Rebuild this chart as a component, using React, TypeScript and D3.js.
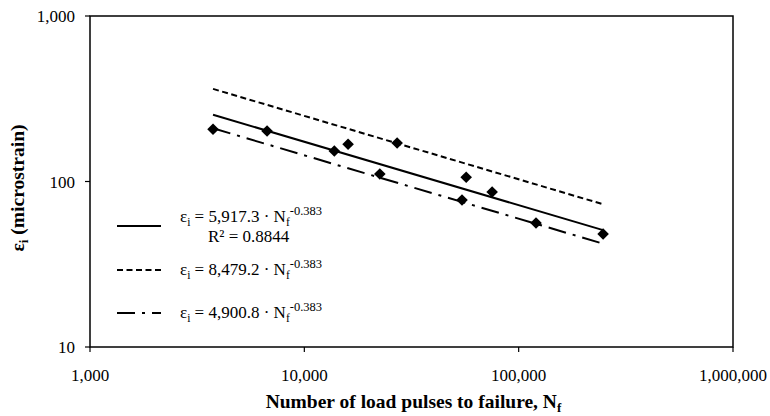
import { useRef, useEffect } from 'react';
import * as d3 from 'd3';

// measured fatigue points (load pulses, microstrain)
const pulses = [3750, 6700, 13800, 16000, 27100, 22500, 56900, 75200, 54400, 120500, 247700];
const strains = [207, 202, 153, 168, 171, 111, 106, 86.4, 77.3, 56.1, 48.2];

// power-law fits shown in the legend: eps = k * N^b
const fitNames = ['mean', 'upper', 'lower'];
const fitCoefs = [5917.3, 8479.2, 4900.8];
const fitExps = [-0.383, -0.383, -0.383];
const fitLabels = ['5,917.3', '8,479.2', '4,900.8'];
const fitDash = ['none', '6,3.5', '18,7,3,7'];

const xTicks = [1000, 10000, 100000, 1000000];
const yTicks = [10, 100, 1000];

const W = 770;
const H = 416;
const FONT = "'Liberation Serif', 'Times New Roman', serif";

export default function App() {
  const svgRef = useRef<SVGSVGElement>(null);

  useEffect(() => {
    const svg = d3.select(svgRef.current);
    svg.selectAll('*').remove();

    const margin = { top: 16, right: 37, bottom: 69, left: 90 };
    const pw = W - margin.left - margin.right;
    const ph = H - margin.top - margin.bottom;

    const x = d3.scaleLog().domain([1000, 1000000]).range([0, pw]);
    const y = d3.scaleLog().domain([10, 1000]).range([ph, 0]);

    const g = svg.append('g').attr('transform', `translate(${margin.left},${margin.top})`);

    // plot frame
    g.append('rect')
      .attr('width', pw)
      .attr('height', ph)
      .attr('fill', 'none')
      .attr('stroke', '#000')
      .attr('stroke-width', 1.5);

    // x ticks
    for (const t of xTicks) {
      g.append('line')
        .attr('x1', x(t)).attr('x2', x(t))
        .attr('y1', ph).attr('y2', ph + 5)
        .attr('stroke', '#000').attr('stroke-width', 1.2);
      g.append('text')
        .attr('x', x(t))
        .attr('y', ph + 34)
        .attr('text-anchor', 'middle')
        .attr('font-family', FONT)
        .attr('font-size', '17px')
        .text(d3.format(',')(t));
    }

    // y ticks
    for (const t of yTicks) {
      g.append('line')
        .attr('x1', -5).attr('x2', 0)
        .attr('y1', y(t)).attr('y2', y(t))
        .attr('stroke', '#000').attr('stroke-width', 1.2);
      g.append('text')
        .attr('x', -15)
        .attr('y', y(t) + 6)
        .attr('text-anchor', 'end')
        .attr('font-family', FONT)
        .attr('font-size', '17px')
        .text(d3.format(',')(t));
    }

    // fit lines across the tested range
    const [nMin, nMax] = d3.extent(pulses) as [number, number];
    fitNames.forEach((_, i) => {
      const ends = [nMin, nMax].map((n) => [n, fitCoefs[i] * Math.pow(n, fitExps[i])] as [number, number]);
      g.append('path')
        .datum(ends)
        .attr('d', d3.line<[number, number]>().x((d) => x(d[0])).y((d) => y(d[1])))
        .attr('fill', 'none')
        .attr('stroke', '#000')
        .attr('stroke-width', 2)
        .attr('stroke-dasharray', fitDash[i]);
    });

    // diamonds
    const diamond = 'M0,-5.8L5.8,0L0,5.8L-5.8,0Z';
    pulses.forEach((n, i) => {
      g.append('path')
        .attr('d', diamond)
        .attr('transform', `translate(${x(n)},${y(strains[i])})`)
        .attr('fill', '#000');
    });

    // legend
    const legendRows = [226, 270, 313];
    fitNames.forEach((_, i) => {
      const ly = legendRows[i] - margin.top;
      g.append('line')
        .attr('x1', 27).attr('x2', 71)
        .attr('y1', ly).attr('y2', ly)
        .attr('stroke', '#000')
        .attr('stroke-width', 2)
        .attr('stroke-dasharray', fitDash[i]);

      const ty = i === 0 ? ly - 4 : ly + 5;
      const t = g.append('text')
        .attr('x', 90)
        .attr('y', ty)
        .attr('font-family', FONT)
        .attr('font-size', '17px');
      t.append('tspan').text('ε');
      t.append('tspan').attr('font-size', '11.5px').attr('dy', 4).text('i');
      t.append('tspan').attr('dy', -4).text(` = ${fitLabels[i]} · N`);
      t.append('tspan').attr('font-size', '11.5px').attr('dy', 4).text('f');
      t.append('tspan').attr('font-size', '12.5px').attr('dy', -11).text(`${fitExps[i]}`);

      if (i === 0) {
        g.append('text')
          .attr('x', 118)
          .attr('y', ty + 20)
          .attr('font-family', FONT)
          .attr('font-size', '17px')
          .text('R² = 0.8844');
      }
    });

    // axis titles
    const xt = svg.append('text')
      .attr('x', margin.left + pw / 2 + 2)
      .attr('y', 408)
      .attr('text-anchor', 'middle')
      .attr('font-family', FONT)
      .attr('font-weight', 'bold')
      .attr('font-size', '19.5px');
    xt.append('tspan').text('Number of load pulses to failure, N');
    xt.append('tspan').attr('font-size', '13px').attr('dy', 4).text('f');

    const yt = svg.append('text')
      .attr('transform', `translate(24,${margin.top + 172}) rotate(-90)`)
      .attr('text-anchor', 'middle')
      .attr('font-family', FONT)
      .attr('font-weight', 'bold')
      .attr('font-size', '19.5px');
    yt.append('tspan').text('ε');
    yt.append('tspan').attr('font-size', '13px').attr('dy', 4).text('i');
    yt.append('tspan').attr('dy', -4).text(' (microstrain)');
  }, []);

  return (
    <div style={{ position: 'fixed', left: 0, top: 0, background: '#fff' }}>
      <svg ref={svgRef} width={W} height={H} viewBox={`0 0 ${W} ${H}`} style={{ display: 'block' }} />
    </div>
  );
}
